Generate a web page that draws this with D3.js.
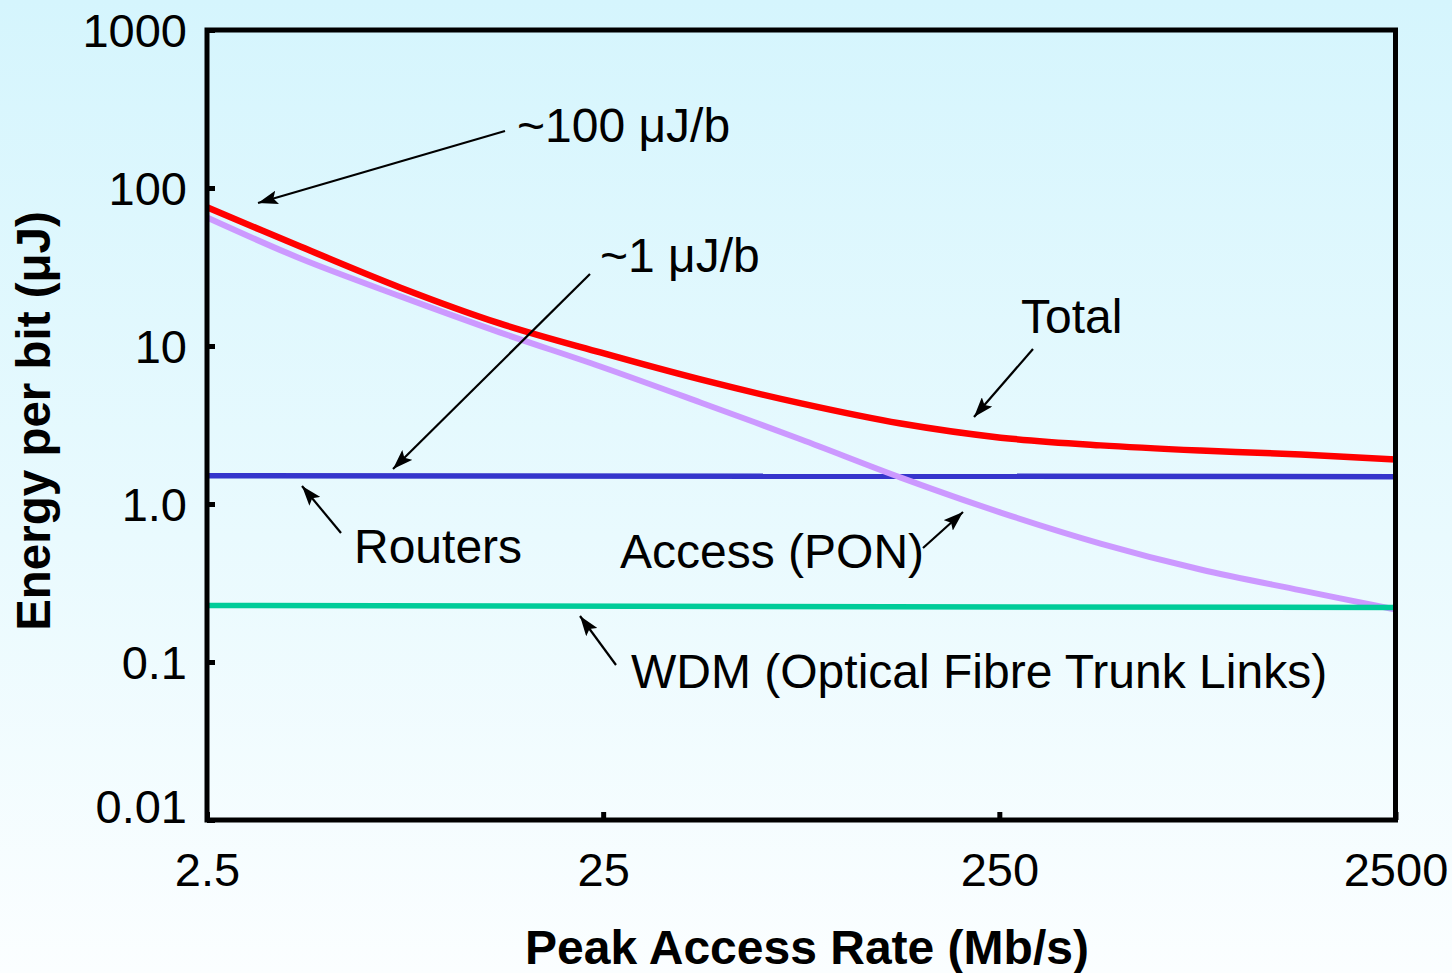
<!DOCTYPE html>
<html>
<head>
<meta charset="utf-8">
<script src="https://cdn.jsdelivr.net/npm/d3@7"></script>
<style>
  html, body { margin: 0; padding: 0; overflow: hidden; }
  svg { display: block; }
  text { font-family: "Liberation Sans", Arial, sans-serif; fill: #000; }
</style>
</head>
<body>
<svg id="chart" width="1452" height="973"></svg>
<script>
// ---- Data ----
const rates = [2.5, 4.3, 7.7, 13.7, 24.6, 44, 79, 141, 252, 450, 805, 1443, 2500]; // Mb/s
const totalEnergy  = [75.5, 42.6, 23.4, 13.9, 9.1, 6.14, 4.33, 3.23, 2.63, 2.35, 2.18, 2.06, 1.91];
const accessEnergy = [65, 35.8, 20.6, 12.2, 7.42, 4.39, 2.56, 1.47, 0.883, 0.562, 0.385, 0.284, 0.215];
const flatRates = [2.5, 2500];
const routerEnergy = [1.51, 1.49];
const wdmEnergy = [0.228, 0.221];
const xTickValues = [2.5, 25, 250, 2500];
const xTickLabels = ["2.5", "25", "250", "2500"];
const yTickValues = [0.01, 0.1, 1, 10, 100, 1000];
const yTickLabels = ["0.01", "0.1", "1.0", "10", "100", "1000"];

(function () {
const svg = d3.select("#chart");
const W = 1452, H = 973;
const pLeft = 207, pRight = 1395.5, pTop = 30, pBottom = 820;

// background gradient
const defs = svg.append("defs");
const grad = defs.append("linearGradient").attr("id", "bg").attr("x1", 0).attr("y1", 0).attr("x2", 0).attr("y2", 1);
grad.append("stop").attr("offset", "0%").attr("stop-color", "#D5F5FD");
grad.append("stop").attr("offset", "55%").attr("stop-color", "#E9FAFE");
grad.append("stop").attr("offset", "100%").attr("stop-color", "#FBFEFF");
svg.append("rect").attr("width", W).attr("height", H).attr("fill", "url(#bg)");

const x = d3.scaleLog().domain([2.5, 2500]).range([pLeft, pRight]);
const y = d3.scaleLog().domain([0.01, 1000]).range([pBottom, pTop]);

const line = d3.line().x(d => x(d[0])).y(d => y(d[1])).curve(d3.curveCatmullRom.alpha(0.5));
const zip = (xs, ys) => xs.map((v, i) => [v, ys[i]]);

const g = svg.append("g");
g.append("path").datum(zip(flatRates, routerEnergy)).attr("d", line)
  .attr("fill", "none").attr("stroke", "#3535CC").attr("stroke-width", 5.5);
g.append("path").datum(zip(rates, accessEnergy)).attr("d", line)
  .attr("fill", "none").attr("stroke", "#CC99FF").attr("stroke-width", 6);
g.append("path").datum(zip(flatRates, wdmEnergy)).attr("d", line)
  .attr("fill", "none").attr("stroke", "#00CC99").attr("stroke-width", 5.5);
g.append("path").datum(zip(rates, totalEnergy)).attr("d", line)
  .attr("fill", "none").attr("stroke", "#FF0000").attr("stroke-width", 6.5);

// axes
const yAxis = d3.axisLeft(y).tickValues(yTickValues)
  .tickFormat((d, i) => yTickLabels[i]).tickSize(-8).tickPadding(20);
const xAxis = d3.axisBottom(x).tickValues(xTickValues)
  .tickFormat((d, i) => xTickLabels[i]).tickSize(-8).tickPadding(33);

const ya = svg.append("g").attr("transform", `translate(${pLeft},0)`).call(yAxis);
const xa = svg.append("g").attr("transform", `translate(0,${pBottom})`).call(xAxis);
[ya, xa].forEach(a => {
  a.select(".domain").remove();
  a.selectAll(".tick line").attr("stroke", "#000").attr("stroke-width", 5);
  a.selectAll(".tick text").attr("font-size", 47).attr("fill", "#000")
    .style("font-family", '"Liberation Sans", Arial, sans-serif');
});
ya.selectAll(".tick text").attr("dy", "0.35em")
  .attr("y", d => d === 0.01 ? -14 : 0);

// frame
svg.append("rect").attr("x", pLeft).attr("y", pTop)
  .attr("width", pRight - pLeft).attr("height", pBottom - pTop)
  .attr("fill", "none").attr("stroke", "#000").attr("stroke-width", 5);

// axis titles
svg.append("text").attr("x", 807).attr("y", 964).attr("text-anchor", "middle")
  .attr("font-size", 48).attr("font-weight", "bold").text("Peak Access Rate (Mb/s)");
svg.append("text").attr("transform", "translate(50,421) rotate(-90)").attr("text-anchor", "middle")
  .attr("font-size", 47.5).attr("font-weight", "bold").text("Energy per bit (μJ)");

// annotations
defs.append("marker").attr("id", "ah").attr("viewBox", "0 0 20 14")
  .attr("refX", 20).attr("refY", 7).attr("markerWidth", 20).attr("markerHeight", 14)
  .attr("markerUnits", "userSpaceOnUse").attr("orient", "auto")
  .append("path").attr("d", "M0,0 L20,7 L0,14 L4,7 Z").attr("fill", "#000");

const notes = [
  { text: "~100 μJ/b", tx: 517, ty: 142, x1: 505, y1: 131, x2: 258, y2: 203 },
  { text: "~1 μJ/b", tx: 600, ty: 272, x1: 590, y1: 274, x2: 393, y2: 469 },
  { text: "Total", tx: 1021, ty: 333, x1: 1033, y1: 349, x2: 974, y2: 417 },
  { text: "Routers", tx: 354, ty: 563, x1: 341, y1: 533, x2: 302, y2: 486 },
  { text: "Access (PON)", tx: 620, ty: 568, x1: 923, y1: 548, x2: 963, y2: 512 },
  { text: "WDM (Optical Fibre Trunk Links)", tx: 631, ty: 688, x1: 616, y1: 665, x2: 580, y2: 616 }
];
const ng = svg.append("g");
notes.forEach(n => {
  ng.append("line").attr("x1", n.x1).attr("y1", n.y1).attr("x2", n.x2).attr("y2", n.y2)
    .attr("stroke", "#000").attr("stroke-width", 2.2).attr("marker-end", "url(#ah)");
  ng.append("text").attr("x", n.tx).attr("y", n.ty).attr("font-size", 48).text(n.text);
});
})();
</script>
</body>
</html>
